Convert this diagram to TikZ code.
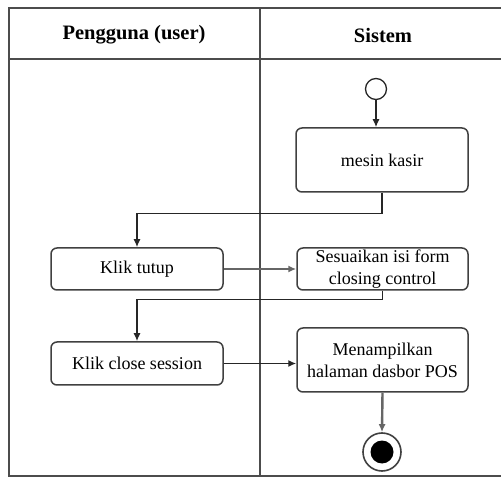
\documentclass[tikz,border=0pt]{standalone}
\usepackage{fontspec}
\setmainfont{Liberation Serif}
\usetikzlibrary{arrows.meta,calc}
\tikzset{
  lane/.style={line width=1.6pt, draw=black!70},
  act/.style={draw=black!75, line width=1.5pt, rounded corners=6pt, align=center, inner sep=0pt,
    font=\fontsize{18}{22}\selectfont},
  hdr/.style={font=\fontsize{20.5}{24}\selectfont\bfseries},
  flow/.style={draw=black!85, line width=1.4pt, -{Latex[length=8pt,width=7pt]}},
  thickflow/.style={flow, draw=black!60, line width=2.4pt},
}
\begin{document}
\begin{tikzpicture}[x=1pt,y=-1pt]
\useasboundingbox (0,0) rectangle (501,478);
% swimlane frame
\draw[lane] (501,8) -- (9,8) -- (9,476) -- (501,476);
\draw[lane] (9,59) -- (501,59);
\draw[lane] (260,8) -- (260,476);
\node[hdr] (h1) at (134,35) {Pengguna (user)};
\node[hdr] (h2) at (383,35) {Sistem};
% nodes
\node[circle, draw=black!85, line width=1.3pt, minimum size=21pt, inner sep=0pt] (s) at (376,89) {};
\node[act, minimum width=172pt, minimum height=64pt] (mk) at (382,160) {mesin kasir};
\node[act, minimum width=172pt, minimum height=42pt] (kt) at (137,269) {Klik tutup};
\node[act, minimum width=171pt, minimum height=42pt] (sf) at (382.5,269) {Sesuaikan isi form\\closing control};
\node[act, minimum width=172pt, minimum height=43pt] (kc) at (137,363.5) {Klik close session};
\node[act, minimum width=171pt, minimum height=64pt] (mp) at (382.5,360) {Menampilkan\\halaman dasbor POS};
\node[circle, draw=black!75, line width=1.6pt, minimum size=38pt, inner sep=0pt] (e) at (382,452) {};
\node[circle, fill=black, minimum size=23pt, inner sep=0pt] (ei) at (e.center) {};
% connectors
\draw[flow] (s.south) -- (s.south |- mk.north);
\draw[flow] (mk.south) -- ++(0,21) -| (kt.north);
\draw[thickflow] (kt.east) -- (sf.west);
\draw[flow] (sf.south) -- ++(0,9) -| (kc.north);
\draw[flow] (kc.east) -- (kc.east -| mp.west);
\draw[thickflow] (mp.south) -- (e.north);
\end{tikzpicture}
\end{document}
